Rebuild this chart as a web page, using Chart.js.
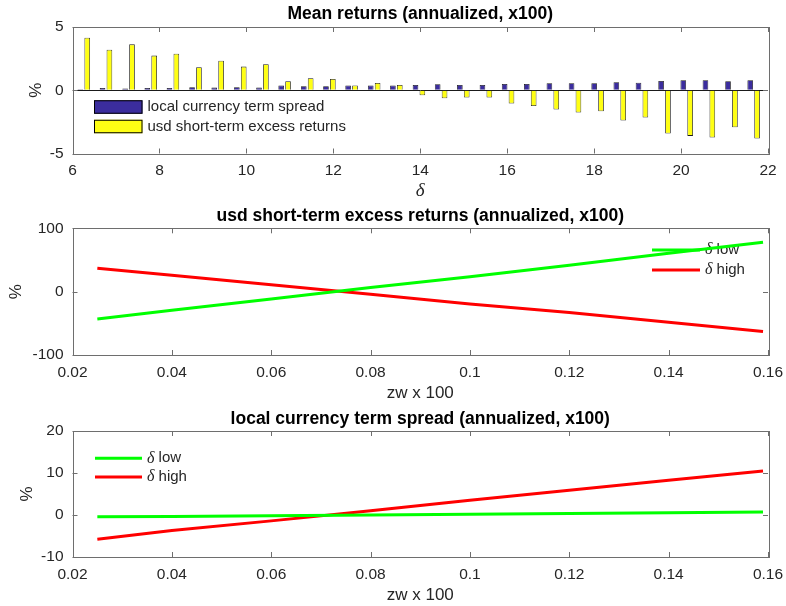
<!DOCTYPE html>
<html>
<head>
<meta charset="utf-8">
<script src="https://cdn.jsdelivr.net/npm/chart.js@4/dist/chart.umd.min.js"></script>
<style>
  html, body { margin: 0; padding: 0; background: #fff; }
  #wrap { position: relative; width: 786px; height: 606px; overflow: hidden; }
  canvas { position: absolute; left: 0; }
</style>
</head>
<body>
<div id="wrap">
  <canvas id="c1" width="786" height="200" style="top:0px"></canvas>
  <canvas id="c2" width="786" height="206" style="top:200px"></canvas>
  <canvas id="c3" width="786" height="200" style="top:406px"></canvas>
</div>
<script>
// ---- data ----
const deltaValues = [6.26, 6.77, 7.29, 7.80, 8.31, 8.83, 9.34, 9.86, 10.37, 10.88,
  11.40, 11.91, 12.42, 12.94, 13.45, 13.97, 14.48, 14.99, 15.51, 16.02,
  16.53, 17.05, 17.56, 18.08, 18.59, 19.10, 19.62, 20.13, 20.64, 21.16, 21.67];
const termSpreadMean = [0.08, 0.18, 0.13, 0.18, 0.18, 0.24, 0.21, 0.24, 0.21, 0.37,
  0.32, 0.32, 0.37, 0.37, 0.37, 0.42, 0.47, 0.42, 0.42, 0.50,
  0.50, 0.55, 0.55, 0.55, 0.63, 0.60, 0.74, 0.79, 0.79, 0.71, 0.79];
const usdExcessMean = [4.16, 3.21, 3.63, 2.74, 2.89, 1.82, 2.34, 1.87, 2.05, 0.71,
  0.95, 0.89, 0.37, 0.58, 0.42, -0.39, -0.63, -0.58, -0.58, -1.05,
  -1.24, -1.53, -1.76, -1.66, -2.39, -2.16, -3.42, -3.61, -3.74, -2.92, -3.82];

const zwGrid = [0.025, 0.04, 0.06, 0.08, 0.1, 0.12, 0.14, 0.159];
const usdLow = [-43, -29.5, -11.5, 6.5, 23.7, 41.7, 60.6, 78];
const usdHigh = [37, 25.8, 11, -4, -19.4, -33, -48.4, -63];
const spreadLow = [-0.4, -0.35, -0.2, 0, 0.15, 0.35, 0.55, 0.7];
const spreadHigh = [-5.8, -3.7, -1.4, 1.0, 3.5, 5.9, 8.3, 10.5];

const barLabels = ['local currency term spread', 'usd short-term excess returns'];
const lineLabels = ['low', 'high'];
const titles = [
  'Mean returns (annualized, x100)',
  'usd short-term excess returns (annualized, x100)',
  'local currency term spread (annualized, x100)'
];

// ---- styling ----
const SANS = '"Liberation Sans", Arial, Helvetica, sans-serif';
const SERIF = '"Liberation Serif", "Times New Roman", serif';
const TEXT = '#262626';
const FRAME = '#6e6e6e';
const BLUE = '#3b2d9e';
const YELLOW = '#ffff14';
const GREEN = '#00ff00';
const RED = '#ff0000';

const pts = (xs, ys) => xs.map((x, i) => ({ x: x, y: ys[i] }));

// frame, inward ticks, titles, axis labels and legend for one panel
const panelPlugin = {
  id: 'panel',
  beforeDatasetsDraw(chart, args, opts) {
    const ctx = chart.ctx;
    ctx.save();
    // legend (drawn under the data lines)
    const lg = opts.legend;
    if (lg) {
      chart.data.datasets.forEach((ds, i) => {
        const y = lg.rows[i];
        if (lg.kind === 'patch') {
          ctx.fillStyle = ds.backgroundColor;
          ctx.fillRect(lg.x0, y - lg.h / 2, lg.x1 - lg.x0, lg.h);
          ctx.strokeStyle = '#000';
          ctx.lineWidth = 1;
          ctx.strokeRect(lg.x0 + 0.5, y - lg.h / 2 + 0.5, lg.x1 - lg.x0 - 1, lg.h - 1);
          ctx.fillStyle = TEXT;
          ctx.font = '15px ' + SANS;
          ctx.textBaseline = 'middle';
          ctx.textAlign = 'left';
          ctx.fillText(ds.label, lg.x1 + 5, y);
        } else {
          ctx.strokeStyle = ds.borderColor;
          ctx.lineWidth = ds.borderWidth;
          ctx.beginPath();
          ctx.moveTo(lg.x0, y);
          ctx.lineTo(lg.x1, y);
          ctx.stroke();
          ctx.fillStyle = TEXT;
          ctx.textBaseline = 'middle';
          ctx.textAlign = 'left';
          ctx.font = 'italic 16px ' + SERIF;
          ctx.fillText('\u03b4', lg.x1 + 5, y);
          const w = ctx.measureText('\u03b4').width;
          ctx.font = '15px ' + SANS;
          ctx.fillText(' ' + ds.label, lg.x1 + 5 + w, y);
        }
      });
    }
    ctx.restore();
  },
  afterDatasetsDraw(chart, args, opts) {
    const ctx = chart.ctx;
    const a = chart.chartArea;
    const xs = chart.scales.x, ys = chart.scales.y;
    ctx.save();
    ctx.strokeStyle = FRAME;
    ctx.lineWidth = 1;
    const tl = 5;
    ctx.beginPath();
    xs.ticks.forEach(t => {
      const px = Math.round(xs.getPixelForValue(t.value)) + 0.5;
      ctx.moveTo(px, a.bottom); ctx.lineTo(px, a.bottom - tl);
      ctx.moveTo(px, a.top); ctx.lineTo(px, a.top + tl);
    });
    ys.ticks.forEach(t => {
      const py = Math.round(ys.getPixelForValue(t.value)) + 0.5;
      ctx.moveTo(a.left, py); ctx.lineTo(a.left + tl, py);
      ctx.moveTo(a.right, py); ctx.lineTo(a.right - tl, py);
    });
    ctx.stroke();
    ctx.strokeRect(Math.round(a.left) + 0.5, Math.round(a.top) + 0.5,
      Math.round(a.right - a.left), Math.round(a.bottom - a.top));

    const cx = (a.left + a.right) / 2;
    ctx.fillStyle = '#000';
    ctx.textAlign = 'center';
    ctx.textBaseline = 'middle';
    ctx.font = 'bold 17.5px ' + SANS;
    ctx.fillText(opts.title, cx, opts.titleY);

    ctx.fillStyle = TEXT;
    ctx.font = opts.xItalic ? ('italic 19px ' + SERIF) : ('17px ' + SANS);
    ctx.fillText(opts.xLabel, cx, opts.xLabelY);

    ctx.save();
    ctx.translate(opts.yLabelX, (a.top + a.bottom) / 2);
    ctx.rotate(-Math.PI / 2);
    ctx.font = '17px ' + SANS;
    ctx.fillText('%', 0, 0);
    ctx.restore();
    ctx.restore();
  }
};

function makeOptions(box, xr, yr, panel, zeroLine) {
  return {
    responsive: false,
    animation: false,
    events: [],
    layout: { padding: { left: 0, right: 786 - box.right, top: box.top, bottom: 0 } },
    plugins: { legend: { display: false }, tooltip: { enabled: false }, title: { display: false }, panel: panel },
    scales: {
      x: {
        type: 'linear', min: xr.min, max: xr.max, offset: false,
        afterFit: s => { s.height = box.h - box.bottom; s.paddingLeft = 0; s.paddingRight = 0; },
        grid: { display: false, drawTicks: false },
        border: { display: false },
        ticks: {
          stepSize: xr.step, maxRotation: 0, autoSkip: false, padding: 8,
          color: TEXT, font: { family: SANS, size: 15.5 },
          callback: v => String(+v.toFixed(2))
        }
      },
      y: {
        type: 'linear', min: yr.min, max: yr.max,
        afterFit: s => { s.width = box.left; s.paddingTop = 0; s.paddingBottom = 0; },
        grid: {
          display: !!zeroLine, drawTicks: false,
          color: c => (c.tick && c.tick.value === 0) ? '#1a1a1a' : 'rgba(0,0,0,0)',
          lineWidth: 1
        },
        border: { display: false },
        ticks: {
          stepSize: yr.step, padding: 9,
          color: TEXT, font: { family: SANS, size: 15.5 },
          callback: v => String(v)
        }
      }
    }
  };
}

Chart.register(panelPlugin);

// panel 1: grouped bars over delta
new Chart(document.getElementById('c1'), {
  type: 'bar',
  data: {
    datasets: [
      { label: barLabels[0], data: pts(deltaValues, termSpreadMean), backgroundColor: BLUE,
        borderColor: '#1a1a1a', borderWidth: 0.8, categoryPercentage: 0.62, barPercentage: 0.82 },
      { label: barLabels[1], data: pts(deltaValues, usdExcessMean), backgroundColor: YELLOW,
        borderColor: '#1a1a1a', borderWidth: 0.8, categoryPercentage: 0.62, barPercentage: 0.82 }
    ]
  },
  options: makeOptions(
    { left: 72.5, right: 768, top: 27, bottom: 153.5, h: 200 },
    { min: 6, max: 22, step: 2 }, { min: -5, max: 5, step: 5 },
    { title: titles[0], titleY: 14.5, xLabel: '\u03b4', xItalic: true, xLabelY: 191, yLabelX: 36,
      legend: { kind: 'patch', x0: 94, x1: 142.5, h: 13.5, rows: [107, 126.5] } },
    true)
});

function lineSet(label, ys, color) {
  return { label: label, data: pts(zwGrid, ys), borderColor: color, backgroundColor: color,
    borderWidth: 3, pointRadius: 0, tension: 0, fill: false };
}

// panel 2: usd short-term excess returns
new Chart(document.getElementById('c2'), {
  type: 'line',
  data: { datasets: [lineSet(lineLabels[0], usdLow, GREEN), lineSet(lineLabels[1], usdHigh, RED)] },
  options: makeOptions(
    { left: 72.5, right: 768, top: 28.3, bottom: 155, h: 206 },
    { min: 0.02, max: 0.16, step: 0.02 }, { min: -100, max: 100, step: 100 },
    { title: titles[1], titleY: 16.5, xLabel: 'zw x 100', xLabelY: 193, yLabelX: 16,
      legend: { kind: 'line', x0: 652, x1: 700, rows: [50, 70] } },
    false)
});

// panel 3: local currency term spread
new Chart(document.getElementById('c3'), {
  type: 'line',
  data: { datasets: [lineSet(lineLabels[0], spreadLow, GREEN), lineSet(lineLabels[1], spreadHigh, RED)] },
  options: makeOptions(
    { left: 72.5, right: 768, top: 25, bottom: 151, h: 200 },
    { min: 0.02, max: 0.16, step: 0.02 }, { min: -10, max: 20, step: 10 },
    { title: titles[2], titleY: 13.5, xLabel: 'zw x 100', xLabelY: 189, yLabelX: 27,
      legend: { kind: 'line', x0: 95, x1: 142, rows: [52.3, 71] } },
    false)
});
</script>
</body>
</html>
